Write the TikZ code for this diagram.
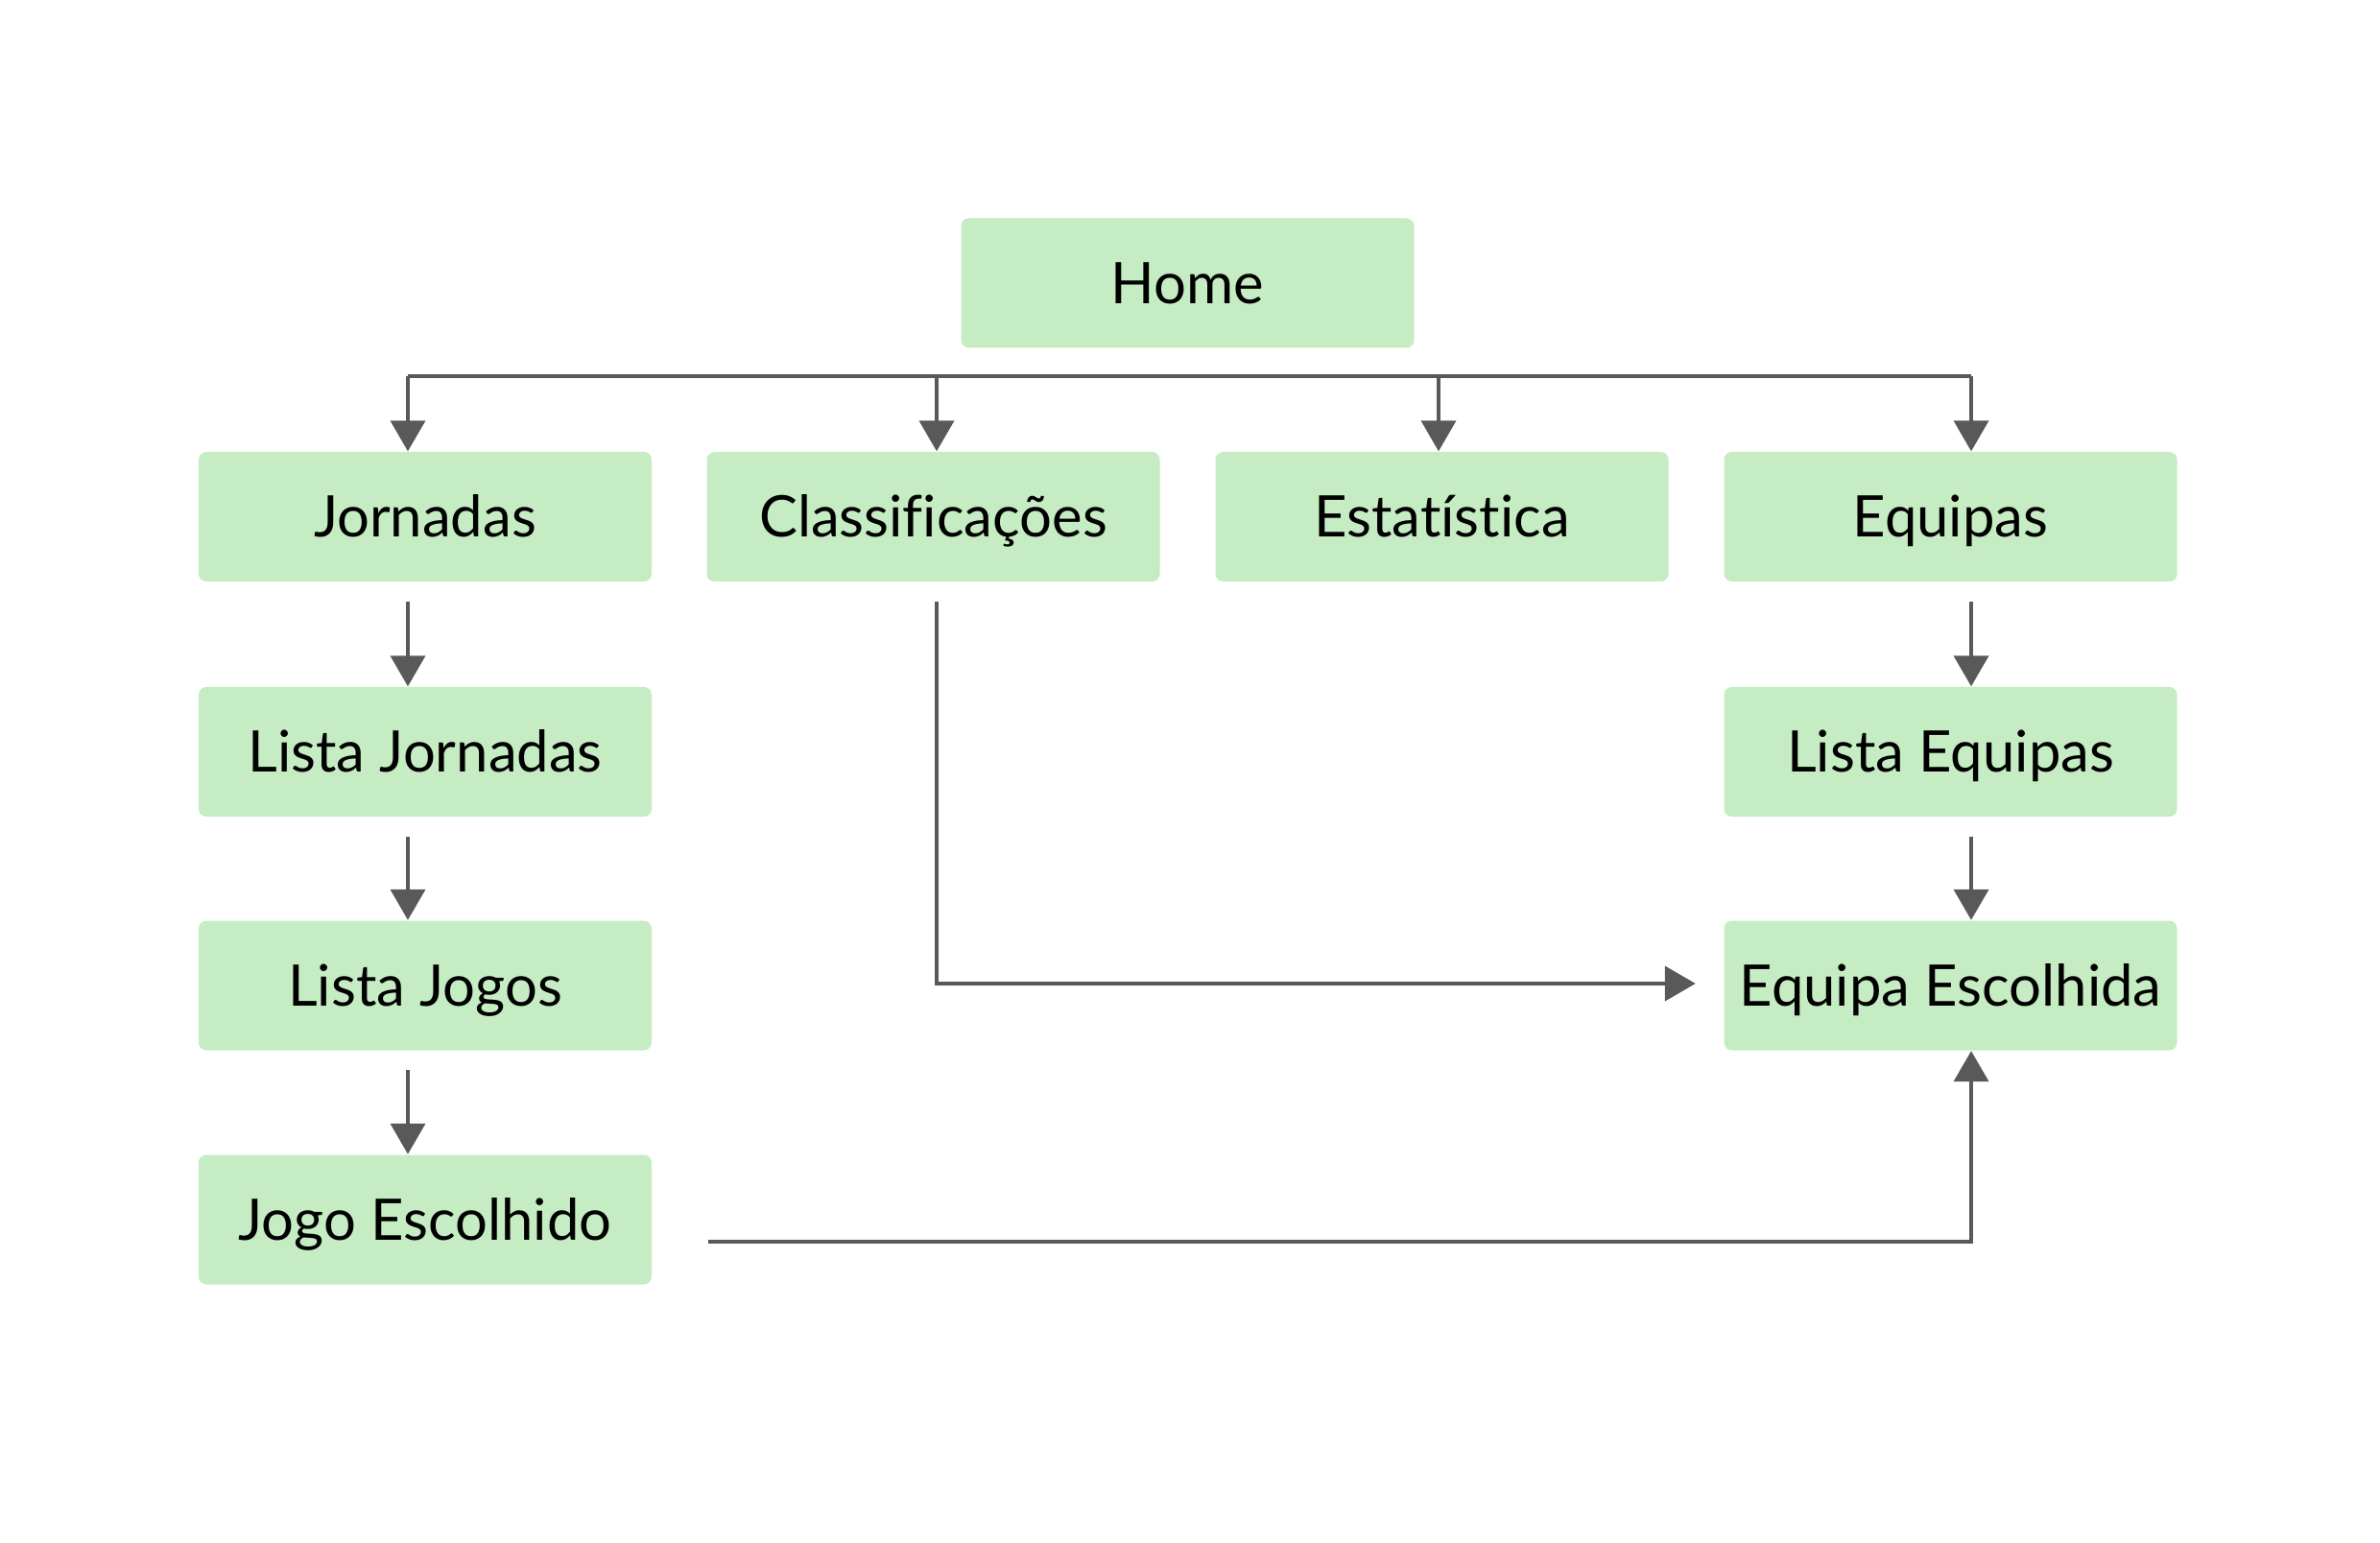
\documentclass[tikz,border=0pt]{standalone}
\usepackage{fontspec}
\setmainfont{Lato}[Ligatures={NoCommon}]
\usetikzlibrary{arrows.meta,calc}
\definecolor{boxgreen}{RGB}{197,236,194}
\definecolor{linegray}{RGB}{89,89,89}
\tikzset{
  pagebox/.style={fill=boxgreen, draw=none, rounded corners=0.08cm, minimum width=4.72cm, minimum height=1.35cm, inner sep=0pt, text height=12.2pt, text depth=0pt, font=\fontsize{17}{20}\selectfont, text=black},
  conn/.style={draw=linegray, line width=0.04cm, -{Triangle[width=0.36cm,length=0.32cm]}},
  plain/.style={draw=linegray, line width=0.04cm}
}
\begin{document}
\begin{tikzpicture}
\useasboundingbox (0,0) rectangle (24.8,16.07);
\node[pagebox] (home) at (12.375,13.12) {Home};
\node[pagebox] (jor) at (4.43,10.685) {Jornadas};
\node[pagebox] (cla) at (9.725,10.685) {Classificações};
\node[pagebox] (est) at (15.025,10.685) {Estatística};
\node[pagebox] (equ) at (20.325,10.685) {Equipas};
\node[pagebox] (ljor) at (4.43,8.235) {Lista Jornadas};
\node[pagebox] (ljog) at (4.43,5.80) {Lista Jogos};
\node[pagebox] (jogo) at (4.43,3.36) {Jogo Escolhido};
\node[pagebox] (lequ) at (20.325,8.235) {Lista Equipas};
\node[pagebox] (eesc) at (20.325,5.80) {Equipa Escolhida};
% bus from Home
\coordinate (busL) at (4.25,12.15);
\coordinate (busR) at (20.54,12.15);
\draw[plain] (busL) -- (busR);
\draw[conn] (busL) -- (busL |- jor.north);
\draw[conn] (9.76,12.15) -- (9.76,0 |- cla.north);
\draw[conn] (14.99,12.15) -- (14.99,0 |- est.north);
\draw[conn] (busR) -- (busR |- equ.north);
% left column
\draw[conn] ($(jor.south)+(-0.18,-0.2)$) -- ($(ljor.north)+(-0.18,0)$);
\draw[conn] ($(ljor.south)+(-0.18,-0.2)$) -- ($(ljog.north)+(-0.18,0)$);
\draw[conn] ($(ljog.south)+(-0.18,-0.2)$) -- ($(jogo.north)+(-0.18,0)$);
% right column
\draw[conn] ($(equ.south)+(0.215,-0.2)$) -- ($(lequ.north)+(0.215,0)$);
\draw[conn] ($(lequ.south)+(0.215,-0.2)$) -- ($(eesc.north)+(0.215,0)$);
% Classificações -> Equipa Escolhida
\draw[conn] ($(cla.south)+(0.035,-0.2)$) |- ($(eesc.west)+(-0.29,0.02)$);
% Jogo Escolhido -> Equipa Escolhida
\draw[conn] ($(jogo.east)+(0.58,-0.23)$) -| ($(eesc.south)+(0.215,0)$);
\end{tikzpicture}
\end{document}
